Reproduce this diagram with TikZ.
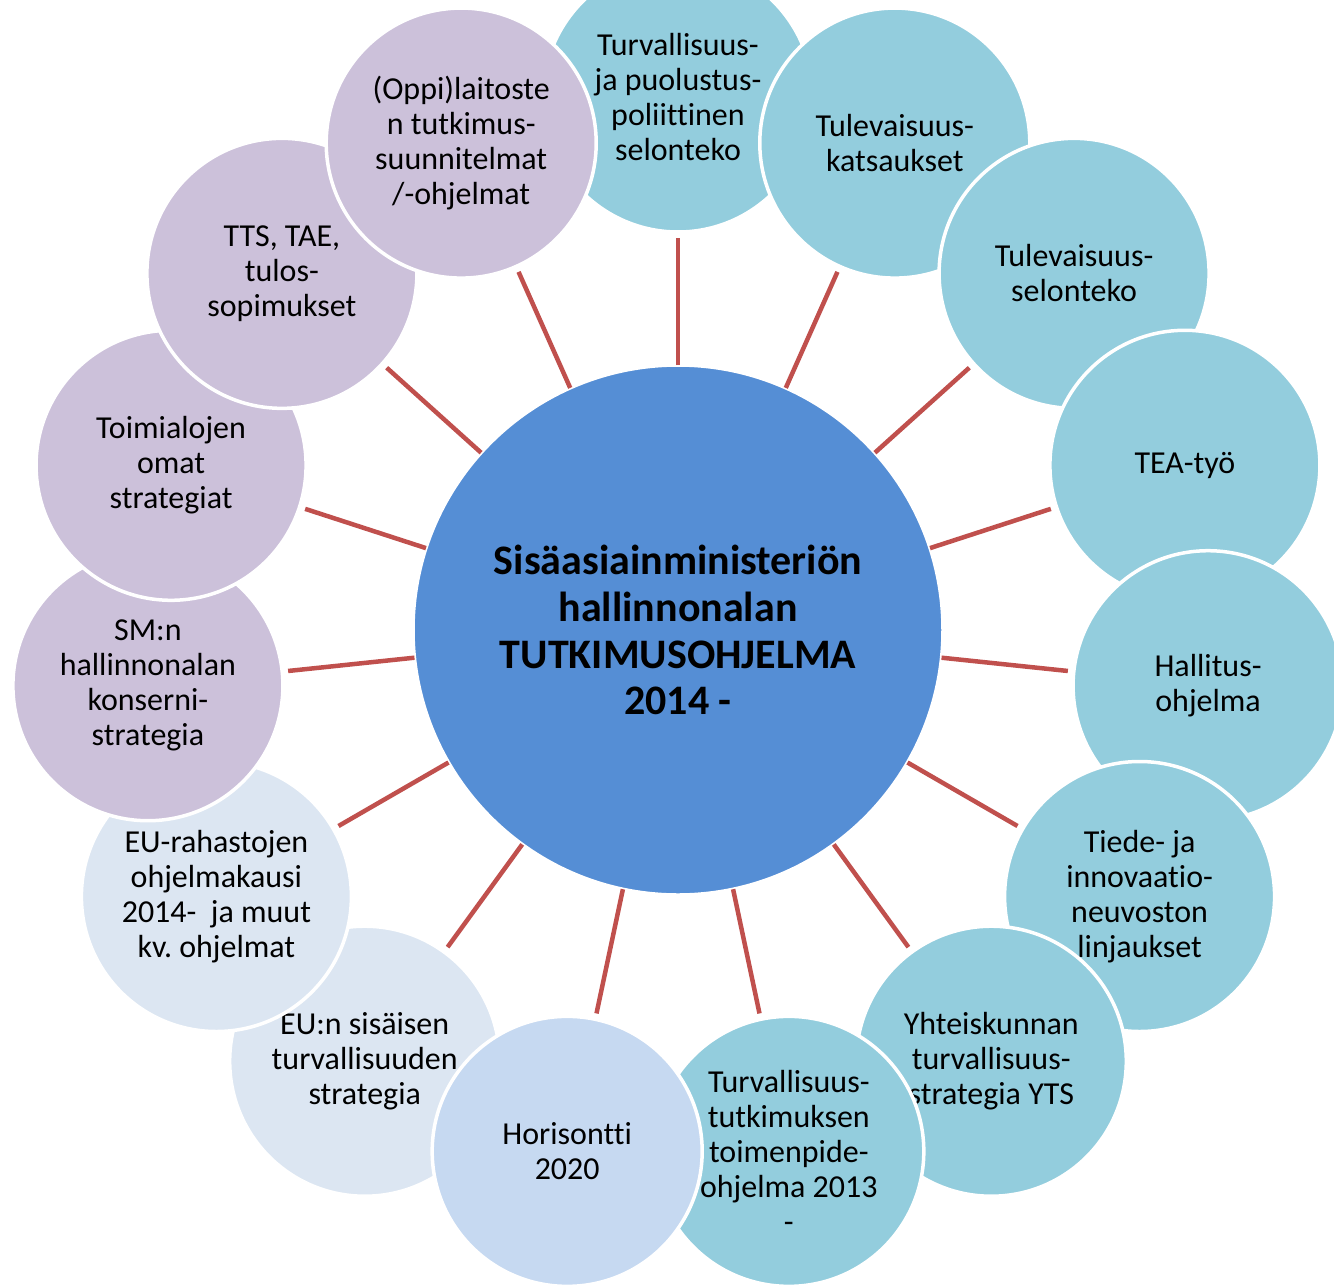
\documentclass[tikz,border=0pt]{standalone}
\usepackage{fontspec}
\setmainfont{Carlito}[Ligatures=CommonOff]
\frenchspacing
\definecolor{hubblue}{HTML}{558ED5}
\definecolor{seablue}{HTML}{93CDDD}
\definecolor{skyblue}{HTML}{C6D9F1}
\definecolor{paleblue}{HTML}{DCE6F2}
\definecolor{lilac}{HTML}{CCC1DA}
\definecolor{linkred}{HTML}{C0504D}
\begin{document}
\begin{tikzpicture}[
    bubble/.style={circle, draw=white, line width=0.07cm, minimum size=5.4cm,
      inner sep=0pt, outer sep=0pt, align=center,
      font=\fontsize{18.2}{19.9}\selectfont},
    hub/.style={circle, draw=white, line width=0.07cm, fill=hubblue,
      minimum size=10.6cm, inner sep=0pt, outer sep=0pt, align=center,
      font=\bfseries\fontsize{23.9}{26.7}\selectfont},
    link/.style={draw=linkred, line width=0.09cm, shorten >=0.12cm}]
      \useasboundingbox (-13.56,-13.08) rectangle (13.12,12.6);
      \clip (-13.56,-13.08) rectangle (13.12,12.6);
      \draw
        (0,0) node[hub] (hub){Sisäasiainministeriön\\hallinnonalan\\TUTKIMUSOHJELMA\\2014 -}
        (-126:10.66) node[bubble, fill=paleblue] (10){EU:n sisäisen\\turvallisuuden\\strategia}
        (90:10.66) node[bubble, fill=seablue] (1){Turvallisuus-\\ja puolustus-\\poliittinen\\selonteko}
        (66:10.66) node[bubble, fill=seablue] (2){Tulevaisuus-\\katsaukset}
        (42:10.66) node[bubble, fill=seablue] (3){Tulevaisuus-\\selonteko}
        (18:10.66) node[bubble, fill=seablue] (4){TEA-työ}
        (-6:10.66) node[bubble, fill=seablue] (5){Hallitus-\\ohjelma}
        (-30:10.66) node[bubble, fill=seablue] (6){Tiede- ja\\innovaatio-\\neuvoston\\linjaukset}
        (-54:10.66) node[bubble, fill=seablue] (7){Yhteiskunnan\\turvallisuus-\\strategia YTS}
        (-78:10.66) node[bubble, fill=seablue] (8){Turvallisuus-\\tutkimuksen\\toimenpide-\\ohjelma 2013\\-}
        (-102:10.66) node[bubble, fill=skyblue] (9){Horisontti\\2020}
        (-150:10.66) node[bubble, fill=paleblue] (11){EU-rahastojen\\ohjelmakausi\\2014-~~ja muut\\kv. ohjelmat}
        (-174:10.66) node[bubble, fill=lilac] (12){SM:n\\hallinnonalan\\konserni-\\strategia}
        (162:10.66) node[bubble, fill=lilac] (13){Toimialojen\\omat\\strategiat}
        (138:10.66) node[bubble, fill=lilac] (14){TTS, TAE,\\tulos-\\sopimukset}
        (114:10.66) node[bubble, fill=lilac] (15){(Oppi)laitoste\\n tutkimus-\\suunnitelmat\\/-ohjelmat};
      \begin{scope}[link]
        \foreach \k in {1,...,15}
          \draw (hub) to (\k);
      \end{scope}
    \end{tikzpicture}
\end{document}
